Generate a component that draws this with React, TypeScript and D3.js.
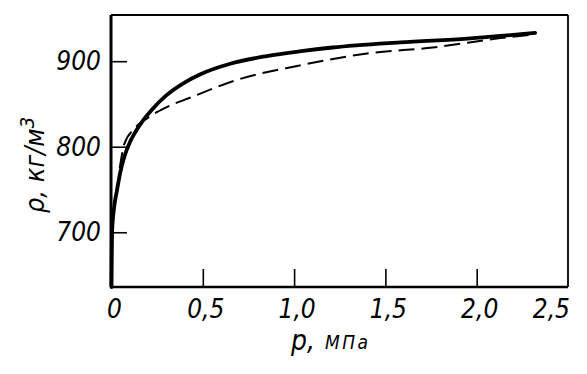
import { useEffect, useRef } from "react";
import * as d3 from "d3";

const W = 587;
const H = 374;

// plot box (pixels)
const marginLeft = 111;
const marginRight = 19;
const marginTop = 15;
const marginBottom = 87;

// x: pressure, MPa ; y: density, kg/m3
const xTicks = [0, 0.5, 1.0, 1.5, 2.0, 2.5];
const xTickLabels = ["0", "0,5", "1,0", "1,5", "2,0", "2,5"];
const yTicks = [700, 800, 900];
const yTickLabels = ["700", "800", "900"];

// solid curve
const solidP = [0, 0.001, 0.003, 0.015, 0.03, 0.047, 0.07, 0.1, 0.13, 0.17, 0.22, 0.3, 0.4, 0.49, 0.65, 0.85, 1.05, 1.21, 1.58, 1.95, 2.32];
const solidRho = [636, 660, 700, 730, 749, 769, 788, 805, 817, 830, 843, 860, 875, 885, 897, 906, 912, 916, 922, 926.5, 933];

// dashed curve
const dashP = [0.045, 0.07, 0.12, 0.18, 0.3, 0.45, 0.67, 1.03, 1.4, 1.76, 2.13, 2.3];
const dashRho = [775, 803, 820, 831, 846, 859, 877, 895, 909, 916, 927, 931];

const font = "'Liberation Sans Narrow', 'DejaVu Sans Condensed', 'DejaVu Sans', sans-serif";

const App = () => {
    const refX = useRef(null);
    const refY = useRef(null);

    const xScale = d3.scaleLinear().domain([0, 2.5]).range([marginLeft + 0.5, W - marginRight]);
    const yScale = d3.scaleLinear().domain([636, 954]).range([H - marginBottom, marginTop]);

    const line = d3
        .line<number>()
        .x((d) => d[0])
        .y((d) => d[1])
        .curve(d3.curveMonotoneX);

    const solidPts = solidP.map((p, i) => [xScale(p), yScale(solidRho[i])]);
    const dashPts = dashP.map((p, i) => [xScale(p), yScale(dashRho[i])]);

    useEffect(() => {
        // inner ticks, labels drawn separately
        const xAxis = d3.axisTop(xScale).tickValues(xTicks.slice(1, 5)).tickSize(18).tickFormat(() => "");
        d3.select(refX.current).call(xAxis).call((g) => g.select(".domain").remove());
        d3.select(refX.current).selectAll("line").attr("stroke-width", 1.6);

        const yAxis = d3.axisRight(yScale).tickValues(yTicks).tickSize(16).tickFormat(() => "");
        d3.select(refY.current).call(yAxis).call((g) => g.select(".domain").remove());
        d3.select(refY.current).selectAll("line").attr("stroke-width", 1.6);
    }, []);

    const plotBottom = H - marginBottom;
    const plotRight = W - marginRight;

    return (
        <svg width={W} height={H} style={{ position: "absolute", left: 0, top: 0, background: "#fff" }}>
            <rect x={0} y={0} width={W} height={H} fill="#fff" />
            <g ref={refX} transform={`translate(0,${plotBottom})`}></g>
            <g ref={refY} transform={`translate(${marginLeft},0)`}></g>

            {/* frame */}
            <line x1={marginLeft} x2={plotRight} y1={marginTop} y2={marginTop} stroke="#000" strokeWidth={2.2} />
            <line x1={plotRight} x2={plotRight} y1={marginTop} y2={plotBottom} stroke="#000" strokeWidth={1.8} />
            <line x1={marginLeft} x2={plotRight} y1={plotBottom} y2={plotBottom} stroke="#000" strokeWidth={2.6} />
            <line x1={marginLeft} x2={marginLeft} y1={marginTop} y2={plotBottom} stroke="#000" strokeWidth={3} />

            {/* curves */}
            <path d={line(dashPts as any) || ""} fill="none" stroke="#000" strokeWidth={2} strokeDasharray="16 7" />
            <path d={line(solidPts as any) || ""} fill="none" stroke="#000" strokeWidth={3.8} strokeLinecap="round" />

            {/* x tick labels */}
            {xTicks.map((t, i) => (
                <text
                    key={i}
                    x={i === xTicks.length - 1 ? xScale(t) + 2 : xScale(t) + 3}
                    y={plotBottom + 31}
                    textAnchor={i === xTicks.length - 1 ? "end" : "middle"}
                    fontFamily={font}
                    fontStyle="italic"
                    fontSize={26}
                    fill="#000"
                >
                    {xTickLabels[i]}
                </text>
            ))}

            {/* y tick labels */}
            {yTicks.map((t, i) => (
                <text
                    key={i}
                    x={marginLeft - 10}
                    y={yScale(t) + 9}
                    textAnchor="end"
                    fontFamily={font}
                    fontStyle="italic"
                    fontSize={26}
                    fill="#000"
                >
                    {yTickLabels[i]}
                </text>
            ))}

            {/* axis titles */}
            <text x={291} y={350} fontFamily={font} fontStyle="italic" fill="#000">
                <tspan fontSize={28}>p,</tspan>
                <tspan fontSize={19} dx={10} dy={-1} letterSpacing={2.5}>МПа</tspan>
            </text>
            <text
                transform="translate(44,165) rotate(-90)"
                textAnchor="middle"
                fontFamily={font}
                fontStyle="italic"
                fill="#000"
            >
                <tspan fontSize={27}>ρ, кг/м</tspan>
                <tspan fontSize={20} dy={-10}>3</tspan>
            </text>
        </svg>
    );
};

export default App;
